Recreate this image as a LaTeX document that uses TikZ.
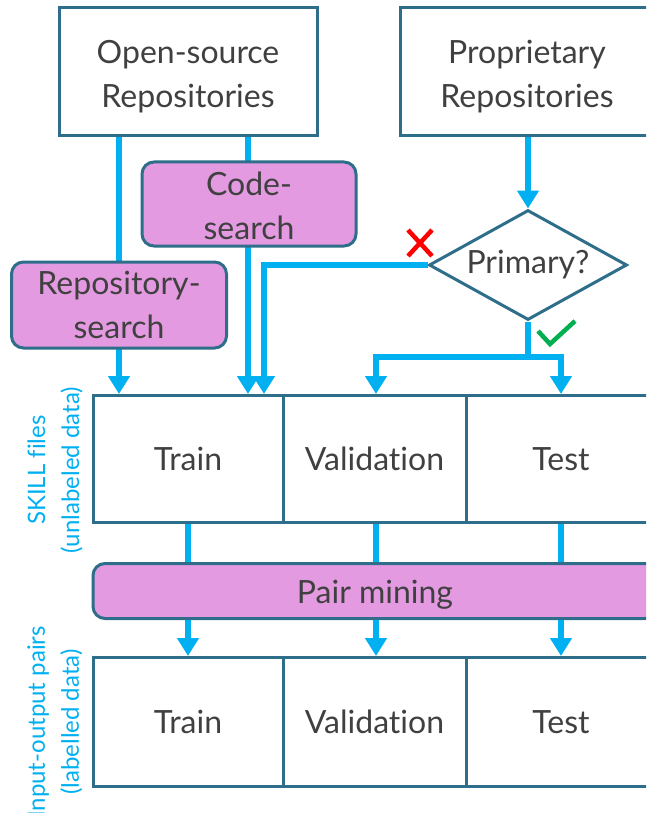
\documentclass[tikz,border=0pt]{standalone}
\usepackage{fontspec}
\setmainfont{Lato}[Ligatures={NoCommon}]
\usetikzlibrary{shapes.geometric,arrows.meta,calc}
\definecolor{bord}{HTML}{2E6E8A}
\definecolor{conn}{HTML}{00B0F0}
\definecolor{pinkf}{HTML}{E39AE0}
\definecolor{txt}{HTML}{404040}
\definecolor{crossred}{HTML}{FF0000}
\definecolor{checkgreen}{HTML}{00B050}
\begin{document}
\begin{tikzpicture}[x=1pt,y=-1pt,
  every node/.style={font=\fontsize{32}{44}\selectfont, text=txt},
  plainbox/.style={draw=bord, line width=3pt, fill=white, inner sep=0pt, align=center},
  pinkbox/.style={draw=bord, line width=3pt, fill=pinkf, rounded corners=12pt, inner sep=0pt, align=center},
  connline/.style={draw=conn, line width=6pt},
  connarrow/.style={draw=conn, line width=6pt, -{Triangle[width=21pt,length=18pt]}},
  sidelabel/.style={text=conn, font=\fontsize{24}{34}\selectfont, rotate=90, align=center}]
\useasboundingbox (0,0) rectangle (646,813);
\clip (0,0) rectangle (646,813);

% top source boxes
\node[plainbox, minimum width=258pt, minimum height=128pt] (os) at (188,72) {\rule{0pt}{33pt}Open-source\\Repositories};
\node[plainbox, minimum width=254pt, minimum height=128pt] (pr) at (527,72) {\rule{0pt}{33pt}Proprietary\\Repositories};

% row 1 boxes
\node[plainbox, minimum width=190pt, minimum height=127pt] (tr1) at (188,459) {Train};
\node[plainbox, minimum width=183pt, minimum height=127pt] (va1) at (374.5,459) {Validation};
\node[plainbox, minimum width=190pt, minimum height=127pt] (te1) at (561,459) {Test};

% row 2 boxes
\node[plainbox, minimum width=190pt, minimum height=129pt] (tr2) at (188,722) {Train};
\node[plainbox, minimum width=183pt, minimum height=129pt] (va2) at (374.5,722) {Validation};
\node[plainbox, minimum width=190pt, minimum height=129pt] (te2) at (561,722) {Test};

% connectors from open-source (drawn before search boxes)
\coordinate (rsx) at (119,0);
\coordinate (csx) at (248,0);
\draw[connarrow] (os.south -| rsx) -- (tr1.north -| rsx);
\draw[connarrow] (os.south -| csx) -- (tr1.north -| csx);

% search boxes
\node[pinkbox, minimum width=215pt, minimum height=86pt] (rs) at (119,305) {Repository-\\search};
\node[pinkbox, minimum width=214pt, minimum height=84pt] (cs) at (249,204) {\rule{0pt}{27pt}Code-\\search};

% diamond
\node[draw=bord, line width=3pt, fill=white, shape=diamond, aspect=2, inner sep=0pt,
      minimum width=198pt, minimum height=110pt] (prim) at (528,265) {Primary?};
\draw[connarrow] (pr.south -| prim.north) -- (prim.north);

% no branch
\coordinate (nox) at (264,0);
\draw[connarrow] (prim.west) -| (tr1.north -| nox);
% yes branch
\coordinate (br) at (528,357);
\draw[connline] (prim.south) -- (br);
\draw[connarrow] (br) -| (va1.north -| 376,0);
\draw[connarrow] (br) -| (te1.north);

% cross and check
\draw[crossred, line width=4.5pt] (408,230) -- (432,256) (432,230) -- (408,256);
\draw[checkgreen, line width=4.5pt] (538,331) -- (550,344) -- (575,321);

% pair mining
\node[pinkbox, minimum width=564pt, minimum height=55pt, text height=24pt, text depth=0pt] (pm) at (375,591) {Pair mining};
\draw[connline] (tr1.south) -- (pm.north -| tr1.south);
\draw[connline] (va1.south -| 376,0) -- (pm.north -| 376,0);
\draw[connline] (te1.south) -- (pm.north -| te1.south);
\draw[connarrow] (pm.south -| tr2.north) -- (tr2.north);
\draw[connarrow] (pm.south -| 376,0) -- (va2.north -| 376,0);
\draw[connarrow] (pm.south -| te2.north) -- (te2.north);

% side labels
\node[sidelabel] (lab1) at (55,470) {SKILL files\\(unlabeled data)};
\node[sidelabel] (lab2) at (55,722) {Input-output pairs\\(labelled data)};
\end{tikzpicture}
\end{document}
